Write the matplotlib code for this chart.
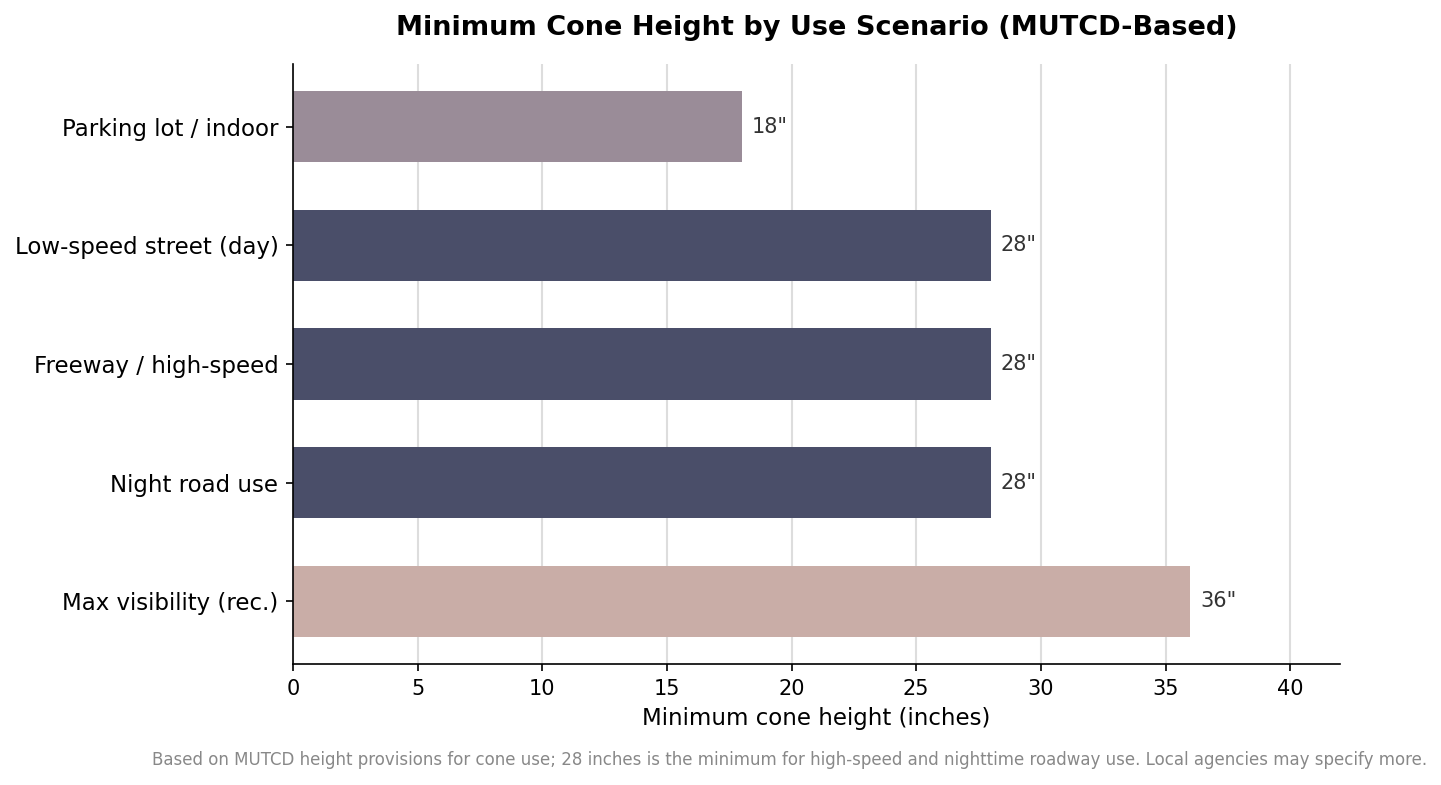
import matplotlib.pyplot as plt

scenarios = ['Parking lot / indoor', 'Low-speed street (day)', 'Freeway / high-speed',
             'Night road use', 'Max visibility (rec.)']
heights = [18, 28, 28, 28, 36]
colors = ['#9A8C98', '#4A4E69', '#4A4E69', '#4A4E69', '#C9ADA7']

fig = plt.figure(figsize=(14.41 / 1.5, 7.85 / 1.5), dpi=150)
ax = fig.add_axes([293 / 1441, 1 - 664 / 785, (1340 - 293) / 1441, 600 / 785])

ypos = list(range(len(scenarios)))
ax.set_axisbelow(True)
ax.barh(ypos, heights, height=0.6, color=colors, zorder=2)
ax.set_yticks(ypos)
ax.set_yticklabels(scenarios, fontsize=11)
ax.invert_yaxis()

for y, h in zip(ypos, heights):
    ax.text(h + 0.4, y, f'{h}"', va='center', ha='left', fontsize=10, color='#333333')

ax.set_xlim(0, 42)
ax.set_xticks(range(0, 41, 5))
ax.tick_params(axis='x', labelsize=10)
ax.set_xlabel('Minimum cone height (inches)', fontsize=11)
ax.grid(axis='x', color='#dddddd', linewidth=1)
ax.spines['top'].set_visible(False)
ax.spines['right'].set_visible(False)
ax.set_title('Minimum Cone Height by Use Scenario (MUTCD-Based)', fontsize=13,
             fontweight='bold', pad=14)

fig.text(1427 / 1441, 1 - 760 / 785,
         'Based on MUTCD height provisions for cone use; 28 inches is the minimum for '
         'high-speed and nighttime roadway use. Local agencies may specify more.',
         ha='right', va='center', fontsize=8, color='#888888')

fig.savefig('out.png', dpi=150)
